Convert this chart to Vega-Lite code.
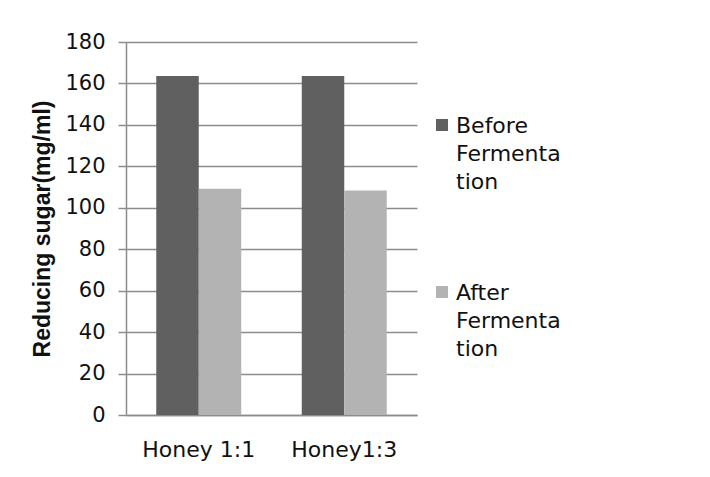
{
  "$schema": "https://vega.github.io/schema/vega-lite/v6.json",
  "autosize": "none",
  "width": 291,
  "height": 373,
  "padding": {"left": 126, "top": 42, "right": 293, "bottom": 62},
  "background": "white",
  "config": {
    "font": "DejaVu Sans",
    "view": {"stroke": null}
  },
  "data": {
    "values": [
      {"Sample": "Honey 1:1", "Stage": "Before Fermentation", "Sugar": 163.6},
      {"Sample": "Honey 1:1", "Stage": "After Fermentation", "Sugar": 109.2},
      {"Sample": "Honey1:3", "Stage": "Before Fermentation", "Sugar": 163.6},
      {"Sample": "Honey1:3", "Stage": "After Fermentation", "Sugar": 108.3}
    ]
  },
  "mark": {"type": "bar"},
  "encoding": {
    "x": {
      "field": "Sample",
      "type": "nominal",
      "sort": ["Honey 1:1", "Honey1:3"],
      "scale": {"paddingInner": 0.416, "paddingOuter": 0.208},
      "axis": {
        "title": null,
        "labelAngle": 0,
        "labelFontSize": 22,
        "labelColor": "#111",
        "labelPadding": 24,
        "ticks": false,
        "domainColor": "#8c8c8c",
        "domainWidth": 1.5,
        "grid": false
      }
    },
    "xOffset": {
      "field": "Stage",
      "type": "nominal",
      "sort": ["Before Fermentation", "After Fermentation"],
      "scale": {"paddingInner": 0, "paddingOuter": 0}
    },
    "y": {
      "field": "Sugar",
      "type": "quantitative",
      "scale": {"domain": [0, 180], "nice": false},
      "axis": {
        "title": "Reducing sugar(mg/ml)",
        "titleFont": "Liberation Sans",
        "titleFontSize": 23,
        "titleFontWeight": "bold",
        "titleColor": "#111",
        "titlePadding": 10,
        "values": [0, 20, 40, 60, 80, 100, 120, 140, 160, 180],
        "labelFontSize": 21,
        "labelColor": "#111",
        "labelPadding": 13,
        "tickSize": 8,
        "tickColor": "#8c8c8c",
        "tickWidth": 1.5,
        "domainColor": "#8c8c8c",
        "domainWidth": 1.5,
        "gridColor": "#8c8c8c",
        "gridWidth": 1.5
      }
    },
    "color": {
      "field": "Stage",
      "type": "nominal",
      "scale": {
        "domain": ["Before Fermentation", "After Fermentation"],
        "range": ["#606060", "#b3b3b3"]
      },
      "legend": {
        "title": null,
        "orient": "none",
        "legendX": 305,
        "legendY": 72,
        "symbolType": "square",
        "symbolSize": 144,
        "symbolStrokeWidth": 0,
        "labelFontSize": 22,
        "labelColor": "#111",
        "labelOffset": 3,
        "labelBaseline": "alphabetic",
        "labelLimit": 200,
        "rowPadding": 88,
        "labelExpr": "[split(datum.label, ' ')[0], 'Fermenta', 'tion']",
        "encode": {"labels": {"update": {"dy": {"value": 8}, "lineHeight": {"value": 28}}}}
      }
    }
  }
}
